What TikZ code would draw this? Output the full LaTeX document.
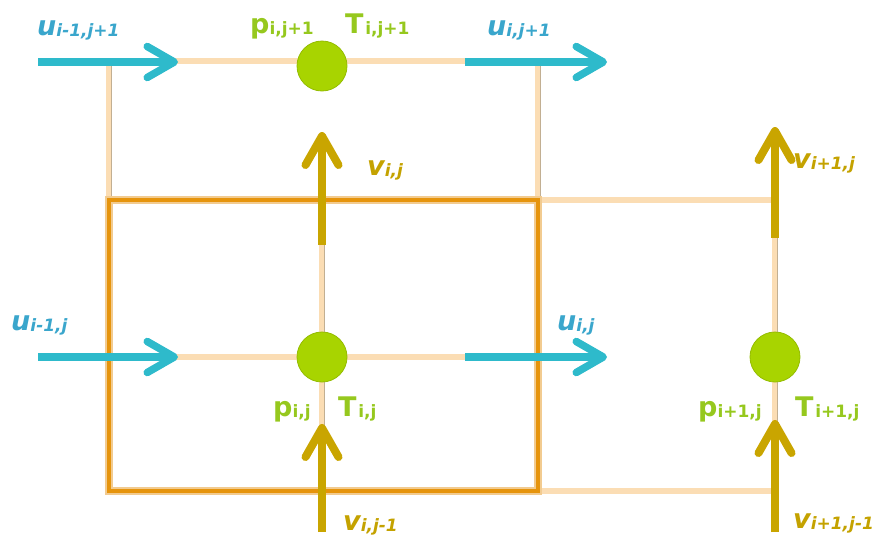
\documentclass[tikz,border=0pt]{standalone}
\usepackage{fontspec}
\setmainfont{DejaVu Sans}
\usetikzlibrary{arrows.meta}
\definecolor{ublue}{HTML}{2EBACB}
\definecolor{ulab}{HTML}{3AA6CC}
\definecolor{vgold}{HTML}{C9A500}
\definecolor{vlab}{HTML}{C4A200}
\definecolor{glab}{HTML}{96C81E}
\definecolor{dotgreen}{HTML}{A8D400}
\definecolor{dotedge}{HTML}{94BC00}
\definecolor{cellorange}{HTML}{E6940C}
\definecolor{celledge}{HTML}{F2CB90}
\definecolor{beige}{HTML}{FBDDB4}
\definecolor{beigeedge}{HTML}{C2AF92}
\newcommand\mainit[1]{{\fontsize{27}{30}\selectfont\itshape #1}}
\newcommand\subit[1]{{\fontsize{17}{20}\selectfont\itshape\raisebox{-1.5pt}{#1}}}
\newcommand\mainup[1]{{\fontsize{27}{30}\selectfont #1}}
\newcommand\subup[1]{{\fontsize{17}{20}\selectfont\raisebox{-1.5pt}{#1}}}
\begin{document}
\begin{tikzpicture}[x=1pt,y=-1pt,
  gridline/.style={draw=beige,line width=5.5pt},
  gridedge/.style={draw=beigeedge,line width=0.9pt},
  cellout/.style={draw=celledge,line width=7.5pt},
  cell/.style={draw=cellorange,line width=4.5pt},
  uarrow/.style={draw=ublue,line width=7.5pt,-{Straight Barb[length=27pt,width=31pt,round]}},
  varrow/.style={draw=vgold,line width=8pt,-{Straight Barb[length=29pt,width=33pt,round]}},
  dot/.style={circle,minimum size=50pt,inner sep=0pt,fill=dotgreen,draw=dotedge,line width=0.8pt},
  lbl/.style={anchor=base west,inner sep=0pt,font=\bfseries},
  ulbl/.style={lbl,text=ulab},
  vlbl/.style={lbl,text=vlab},
  glbl/.style={lbl,text=glab}
]
\useasboundingbox (0,0) rectangle (880,541);

% grid corners
\coordinate (TL) at (109,61);
\coordinate (TR) at (538,61);
\coordinate (CL) at (109,200);
\coordinate (CR) at (538,200);
\coordinate (BL) at (109,491);
\coordinate (BR) at (538,491);
\coordinate (ER) at (775,200);
\coordinate (EB) at (775,491);
\coordinate (MT) at (322,200);
\coordinate (MB) at (322,491);
\coordinate (ML) at (109,357);
\coordinate (MR) at (538,357);

% beige grid lines
\draw[gridline] (TL) -- (TR);
\draw[gridline] (TL) -- (CL);
\draw[gridline] (TR) -- (CR);
\draw[gridline] (CR) -- (ER) -- (EB) -- (BR);
\draw[gridline] (MT) -- (MB);
\draw[gridline] (ML) -- (MR);
\draw[gridedge] ([xshift=2.7pt]TL) -- ([xshift=2.7pt]CL);
\draw[gridedge] ([xshift=2.7pt]TR) -- ([xshift=2.7pt]CR);
\draw[gridedge] ([xshift=2.7pt]MT) -- ([xshift=2.7pt]MB);
\draw[gridedge] ([xshift=2.7pt]ER) -- ([xshift=2.7pt]EB);

% orange cell
\draw[cellout] (CL) rectangle (BR);
\draw[cell] (CL) rectangle (BR);

% pressure / temperature points
\node[dot] (P1) at (322,66) {};
\node[dot] (P2) at (322,357) {};
\node[dot] (P3) at (775,357) {};

% arrow end points
\coordinate (u1s) at (38,62);   \coordinate (u1e) at (178,62);
\coordinate (u2s) at (465,62);  \coordinate (u2e) at (607,62);
\coordinate (u3s) at (38,357);  \coordinate (u3e) at (178,357);
\coordinate (u4s) at (465,357); \coordinate (u4e) at (607,357);
\coordinate (v1s) at (322,245); \coordinate (v1e) at (322,132);
\coordinate (v2s) at (322,532); \coordinate (v2e) at (322,424);
\coordinate (v3s) at (775,238); \coordinate (v3e) at (775,127);
\coordinate (v4s) at (775,532); \coordinate (v4e) at (775,420);

\draw[uarrow] (u1s) -- (u1e);
\draw[uarrow] (u2s) -- (u2e);
\draw[uarrow] (u3s) -- (u3e);
\draw[uarrow] (u4s) -- (u4e);
\draw[varrow] (v1s) -- (v1e);
\draw[varrow] (v2s) -- (v2e);
\draw[varrow] (v3s) -- (v3e);
\draw[varrow] (v4s) -- (v4e);

% labels
\node[ulbl] (Lu1) at (37,35) {\mainit{u}\subit{i-1,j+1}};
\node[ulbl] (Lu2) at (487,35) {\mainit{u}\subit{i,j+1}};
\node[ulbl] (Lu3) at (11,330) {\mainit{u}\subit{i-1,j}};
\node[ulbl] (Lu4) at (557,330) {\mainit{u}\subit{i,j}};
\node[glbl] (Lp1) at (250,33) {\mainup{p}\subup{i,j+1}};
\node[glbl] (LT1) at (345,33) {\mainup{T}\,\subup{i,j+1}};
\node[glbl] (Lp2) at (273,416) {\mainup{p}\subup{i,j}};
\node[glbl] (LT2) at (338,416) {\mainup{T}\,\subup{i,j}};
\node[glbl] (Lp3) at (698,416) {\mainup{p}\subup{i+1,j}};
\node[glbl] (LT3) at (795,416) {\mainup{T}\,\subup{i+1,j}};
\node[vlbl] (Lv1) at (367,175) {\mainit{v}\subit{i,j}};
\node[vlbl] (Lv2) at (793,168) {\mainit{v}\subit{i+1,j}};
\node[vlbl] (Lv3) at (343,530) {\mainit{v}\subit{i,j-1}};
\node[vlbl] (Lv4) at (793,528) {\mainit{v}\subit{i+1,j-1}};
\end{tikzpicture}
\end{document}
